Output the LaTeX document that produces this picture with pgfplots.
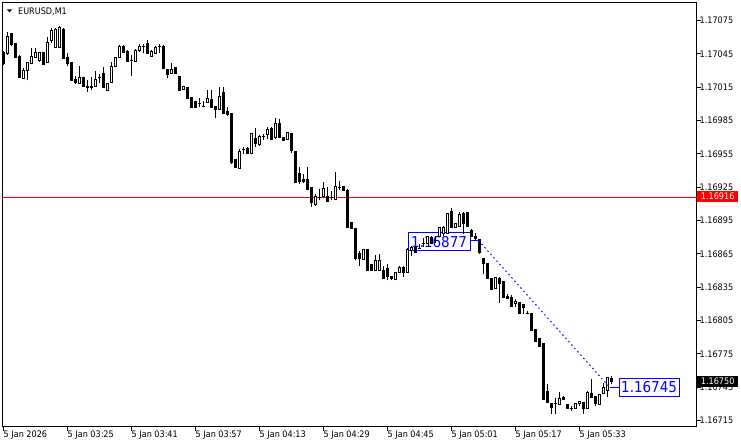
\documentclass[border=0pt]{standalone}
\usepackage{fontspec}
\setmainfont{DejaVu Sans Condensed}
\usepackage{pgfplots}
\usepackage{pgfplotstable}
\pgfplotsset{compat=1.18}

\newcommand\tickfont{\fontsize{9}{10}\selectfont}

% EURUSD M1 bars: index, open, high, low, close
\pgfplotstableread{
i o h l c
0 1.17046 1.17048 1.17035 1.17036
1 1.17045 1.17065 1.17044 1.17061
2 1.17063 1.17064 1.17052 1.17053
3 1.17054 1.17054 1.17041 1.17042
4 1.17043 1.17044 1.17024 1.17024
5 1.17023 1.17032 1.17023 1.17030
6 1.17030 1.17037 1.17021 1.17037
7 1.17036 1.17050 1.17036 1.17043
8 1.17042 1.17050 1.17041 1.17046
9 1.17039 1.17047 1.17038 1.17046
10 1.17046 1.17047 1.17035 1.17035
11 1.17037 1.17060 1.17037 1.17055
12 1.17057 1.17068 1.17055 1.17066
13 1.17051 1.17068 1.17051 1.17067
14 1.17051 1.17070 1.17051 1.17069
15 1.17067 1.17068 1.17040 1.17041
16 1.17042 1.17046 1.17034 1.17036
17 1.17037 1.17037 1.17021 1.17021
18 1.17022 1.17025 1.17018 1.17019
19 1.17018 1.17034 1.17018 1.17024
20 1.17024 1.17024 1.17016 1.17016
21 1.17016 1.17021 1.17011 1.17015
22 1.17016 1.17024 1.17012 1.17015
23 1.17016 1.17030 1.17016 1.17022
24 1.17024 1.17027 1.17019 1.17024
25 1.17027 1.17033 1.17014 1.17015
26 1.17012 1.17019 1.17012 1.17018
27 1.17019 1.17038 1.17019 1.17034
28 1.17034 1.17042 1.17033 1.17042
29 1.17042 1.17053 1.17042 1.17052
30 1.17052 1.17053 1.17046 1.17046
31 1.17047 1.17048 1.17038 1.17038
32 1.17039 1.17044 1.17025 1.17039
33 1.17038 1.17049 1.17038 1.17048
34 1.17048 1.17054 1.17047 1.17052
35 1.17052 1.17054 1.17046 1.17052
36 1.17054 1.17057 1.17045 1.17045
37 1.17043 1.17048 1.17042 1.17047
38 1.17045 1.17052 1.17045 1.17051
39 1.17052 1.17054 1.17046 1.17052
40 1.17052 1.17053 1.17031 1.17032
41 1.17031 1.17031 1.17023 1.17026
42 1.17027 1.17037 1.17027 1.17031
43 1.17033 1.17033 1.17027 1.17027
44 1.17025 1.17025 1.17012 1.17012
45 1.17013 1.17016 1.17013 1.17016
46 1.17015 1.17015 1.17005 1.17005
47 1.17006 1.17006 1.16997 1.16997
48 1.17002 1.17003 1.16997 1.16997
49 1.17000 1.17005 1.16997 1.17000
50 1.16998 1.17003 1.16997 1.16998
51 1.17001 1.17012 1.17001 1.17005
52 1.17004 1.17012 1.16997 1.16997
53 1.16998 1.16998 1.16987 1.16995
54 1.16995 1.17015 1.16995 1.17007
55 1.17010 1.17015 1.16991 1.16991
56 1.16993 1.16997 1.16989 1.16990
57 1.16991 1.16991 1.16946 1.16947
58 1.16950 1.16950 1.16943 1.16943
59 1.16942 1.16959 1.16942 1.16957
60 1.16959 1.16961 1.16955 1.16959
61 1.16960 1.16961 1.16955 1.16955
62 1.16955 1.16973 1.16955 1.16973
63 1.16969 1.16978 1.16961 1.16964
64 1.16963 1.16972 1.16962 1.16971
65 1.16971 1.16973 1.16967 1.16971
66 1.16972 1.16979 1.16968 1.16977
67 1.16978 1.16979 1.16968 1.16968
68 1.16970 1.16987 1.16968 1.16982
69 1.16982 1.16986 1.16970 1.16970
70 1.16970 1.16970 1.16967 1.16967
71 1.16968 1.16974 1.16968 1.16974
72 1.16973 1.16973 1.16956 1.16958
73 1.16957 1.16958 1.16929 1.16929
74 1.16937 1.16943 1.16928 1.16930
75 1.16932 1.16937 1.16929 1.16930
76 1.16932 1.16943 1.16923 1.16923
77 1.16925 1.16925 1.16907 1.16911
78 1.16909 1.16919 1.16908 1.16917
79 1.16916 1.16923 1.16913 1.16916
80 1.16917 1.16930 1.16917 1.16924
81 1.16917 1.16925 1.16912 1.16912
82 1.16916 1.16922 1.16913 1.16916
83 1.16914 1.16939 1.16914 1.16926
84 1.16925 1.16931 1.16922 1.16925
85 1.16926 1.16926 1.16922 1.16922
86 1.16922 1.16923 1.16888 1.16889
87 1.16893 1.16894 1.16888 1.16888
88 1.16888 1.16888 1.16859 1.16861
89 1.16865 1.16868 1.16854 1.16861
90 1.16860 1.16869 1.16859 1.16869
91 1.16869 1.16869 1.16850 1.16850
92 1.16855 1.16856 1.16850 1.16850
93 1.16850 1.16864 1.16850 1.16859
94 1.16850 1.16865 1.16850 1.16859
95 1.16850 1.16854 1.16843 1.16843
96 1.16852 1.16856 1.16841 1.16845
97 1.16845 1.16845 1.16841 1.16843
98 1.16842 1.16848 1.16841 1.16848
99 1.16848 1.16854 1.16848 1.16853
100 1.16853 1.16854 1.16844 1.16848
101 1.16848 1.16870 1.16848 1.16869
102 1.16868 1.16872 1.16863 1.16871
103 1.16871 1.16871 1.16866 1.16866
104 1.16870 1.16874 1.16869 1.16870
105 1.16874 1.16879 1.16871 1.16874
106 1.16874 1.16881 1.16874 1.16881
107 1.16880 1.16881 1.16874 1.16874
108 1.16877 1.16881 1.16875 1.16877
109 1.16881 1.16889 1.16881 1.16889
110 1.16883 1.16890 1.16881 1.16889
111 1.16883 1.16902 1.16883 1.16901
112 1.16903 1.16906 1.16889 1.16889
113 1.16889 1.16892 1.16888 1.16892
114 1.16890 1.16903 1.16890 1.16900
115 1.16901 1.16903 1.16883 1.16892
116 1.16902 1.16902 1.16890 1.16890
117 1.16886 1.16887 1.16881 1.16881
118 1.16881 1.16884 1.16877 1.16879
119 1.16878 1.16878 1.16865 1.16866
120 1.16861 1.16861 1.16847 1.16856
121 1.16856 1.16856 1.16843 1.16843
122 1.16843 1.16843 1.16832 1.16833
123 1.16834 1.16844 1.16834 1.16844
124 1.16843 1.16844 1.16821 1.16838
125 1.16840 1.16840 1.16825 1.16826
126 1.16827 1.16829 1.16825 1.16825
127 1.16826 1.16828 1.16817 1.16818
128 1.16820 1.16824 1.16817 1.16822
129 1.16821 1.16821 1.16811 1.16811
130 1.16819 1.16819 1.16811 1.16817
131 1.16811 1.16814 1.16811 1.16811
132 1.16811 1.16811 1.16796 1.16796
133 1.16797 1.16797 1.16786 1.16786
134 1.16789 1.16789 1.16782 1.16782
135 1.16784 1.16784 1.16734 1.16734
136 1.16741 1.16748 1.16731 1.16731
137 1.16730 1.16730 1.16721 1.16727
138 1.16730 1.16735 1.16721 1.16730
139 1.16729 1.16741 1.16729 1.16735
140 1.16736 1.16737 1.16734 1.16734
141 1.16729 1.16730 1.16726 1.16726
142 1.16726 1.16728 1.16724 1.16726
143 1.16726 1.16730 1.16726 1.16730
144 1.16730 1.16733 1.16728 1.16732
145 1.16731 1.16731 1.16721 1.16726
146 1.16726 1.16742 1.16726 1.16740
147 1.16739 1.16752 1.16736 1.16736
148 1.16737 1.16737 1.16728 1.16730
149 1.16729 1.16738 1.16729 1.16738
150 1.16739 1.16749 1.16739 1.16745
151 1.16742 1.16754 1.16736 1.16754
152 1.16753 1.16755 1.16748 1.16750
}\candles

\begin{document}
\begin{tikzpicture}
\useasboundingbox (-2.5pt,-20.5pt) rectangle (738.5pt,426.5pt);
\begin{axis}[
    at={(0pt,0pt)}, anchor=south west,
    scale only axis, width=694pt, height=424pt,
    xmin=-0.25, xmax=173.25,
    ymin=1.167096, ymax=1.170912,
    clip=false,
    axis line style={black, line width=1pt},
    tick style={black, line width=1pt},
    tick align=outside,
    major tick length=4pt,
    xtick pos=left, ytick pos=right,
    yticklabel pos=right,
    xtick={0,16,...,144},
    xticklabels={5 Jan 2026,5 Jan 03:25,5 Jan 03:41,5 Jan 03:57,5 Jan 04:13,5 Jan 04:29,5 Jan 04:45,5 Jan 05:01,5 Jan 05:17,5 Jan 05:33},
    ytick={1.16715,1.16745,1.16775,1.16805,1.16835,1.16865,1.16895,1.16925,1.16955,1.16985,1.17015,1.17045,1.17075},
    yticklabels={1.16715,1.16745,1.16775,1.16805,1.16835,1.16865,1.16895,1.16925,1.16955,1.16985,1.17015,1.17045,1.17075},
    xticklabel style={font=\tickfont, anchor=north west, inner sep=0pt},
    yticklabel style={font=\tickfont, anchor=west, inner sep=0pt, xshift=-1pt},
]

% bid line
\addplot[red, line width=1pt] coordinates {(-0.25,1.16916) (173.25,1.16916)};

% left price label of the trend line (candles are drawn over it)
\node[draw=blue, line width=1pt, text=blue, inner sep=0pt,
      minimum width=62pt, minimum height=18pt,
      font=\fontsize{15}{15}\selectfont] at (axis cs:108.9,1.16876) {1.16877};

% wicks
\addplot[black, line width=1pt, quiver={u=0, v=\thisrow{h}-\thisrow{l}}]
    table[x=i, y=l] {\candles};
% white inside of rising bars
\addplot[white, line width=1pt, quiver={u=0, v=\thisrow{c}-\thisrow{o}},
    restrict expr to domain={\thisrow{c}-\thisrow{o}}{0.000005:1}]
    table[x=i, y=o] {\candles};
% body sides
\addplot[black, line width=1pt, quiver={u=0, v=\thisrow{c}-\thisrow{o}}]
    table[x expr=\thisrow{i}-0.25, y=o] {\candles};
\addplot[black, line width=1pt, quiver={u=0, v=\thisrow{c}-\thisrow{o}}]
    table[x expr=\thisrow{i}+0.25, y=o] {\candles};
% body ends
\addplot[only marks, mark=-, mark size=1.5pt, mark options={black, line width=1pt}]
    table[x=i, y=o] {\candles};
\addplot[only marks, mark=-, mark size=1.5pt, mark options={black, line width=1pt}]
    table[x=i, y=c] {\candles};

% trend line
\addplot[blue, line width=1pt] coordinates {(116.75,1.16877) (118.75,1.16877)};
\addplot[blue, line width=1pt, dash pattern=on 1.5pt off 3pt] coordinates {(118.75,1.16877) (151.5,1.16745)};
\addplot[blue, line width=1pt] coordinates {(151.5,1.16745) (154,1.16745)};
\node[draw=blue, line width=1pt, fill=white, text=blue, inner sep=0pt,
      minimum width=60pt, minimum height=18pt,
      font=\fontsize{15}{15}\selectfont] at (axis cs:161.4,1.167451) {1.16745};

% price labels on the scale
\node[fill=red, text=white, inner sep=0pt, minimum width=41pt, minimum height=11pt, font=\tickfont]
    at ([xshift=21.2pt, yshift=0.8pt]axis cs:173.25,1.16916) {1.16916};
\node[fill=black, text=white, inner sep=0pt, minimum width=41pt, minimum height=11pt, font=\tickfont]
    at ([xshift=21.2pt]axis cs:173.25,1.16750) {1.16750};

% symbol title
\fill ([shift={(4.2pt,-6.8pt)}]rel axis cs:0,1) -- ([shift={(9.8pt,-6.8pt)}]rel axis cs:0,1)
    -- ([shift={(7pt,-9.8pt)}]rel axis cs:0,1) -- cycle;
\node[anchor=base west, inner sep=0pt, font=\tickfont]
    at ([shift={(15.5pt,-11.8pt)}]rel axis cs:0,1) {EURUSD,M1};

\end{axis}
\end{tikzpicture}
\end{document}
